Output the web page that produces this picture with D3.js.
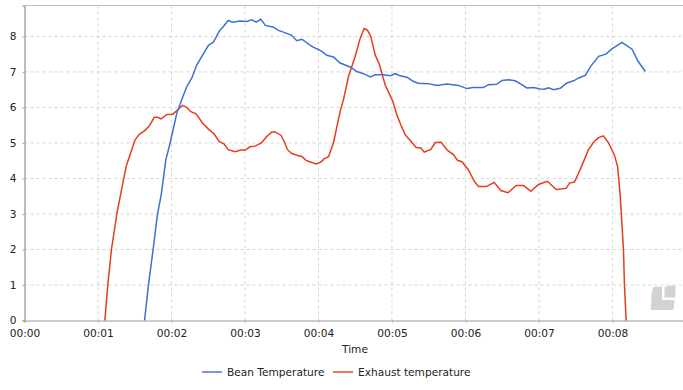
<!DOCTYPE html>
<html>
<head>
<meta charset="utf-8">
<script src="https://cdn.jsdelivr.net/npm/d3@7"></script>
<style>
  html, body { margin: 0; padding: 0; background: #fff; }
  text { font-family: "DejaVu Sans", sans-serif; fill: #222; }
</style>
</head>
<body>
<div id="chart"></div>
<script>
// values, time in seconds
const beanTime = [98, 101.2, 105, 108.6, 111.6, 115.4, 118.9, 121.6, 124.4, 128.4, 132.5, 136.6, 140.7, 144.8, 150.2, 154.3, 159.2, 162.4, 166.3, 169.8, 176, 181, 185.6, 189.1, 192.9, 196.7, 203.3, 207.3, 211.4, 218.2, 222.3, 226.4, 234.6, 242.7, 246.8, 252.2, 257.7, 265.9, 271.3, 276.8, 282.2, 286.3, 293.1, 298.5, 302.6, 306.7, 312.1, 317.6, 321.6, 329.8, 336.6, 344.8, 354.3, 361.1, 366.5, 374.7, 378.8, 385.6, 389.7, 395.2, 400.6, 406, 410.1, 415.6, 421, 424.3, 427.8, 431.9, 437.4, 442.8, 448.3, 452.4, 457.8, 462.5, 468.7, 474.7, 479.6, 487.8, 496, 500.9, 506.9];
const beanValues = [0, 1, 2, 3, 3.54, 4.53, 5, 5.42, 5.84, 6.22, 6.59, 6.83, 7.2, 7.44, 7.75, 7.84, 8.16, 8.28, 8.45, 8.4, 8.43, 8.42, 8.47, 8.4, 8.48, 8.31, 8.26, 8.17, 8.12, 8.03, 7.88, 7.92, 7.72, 7.58, 7.47, 7.42, 7.25, 7.14, 7.01, 6.95, 6.86, 6.92, 6.92, 6.89, 6.95, 6.89, 6.85, 6.73, 6.68, 6.67, 6.62, 6.66, 6.62, 6.53, 6.56, 6.56, 6.64, 6.65, 6.76, 6.78, 6.75, 6.64, 6.55, 6.56, 6.52, 6.51, 6.55, 6.5, 6.54, 6.69, 6.75, 6.83, 6.9, 7.17, 7.44, 7.5, 7.65, 7.83, 7.64, 7.3, 7.01];
const exhaustTime = [65.6, 68, 71, 75.4, 78.4, 83, 85.7, 90.3, 93.9, 98, 102, 105.9, 108.6, 111.6, 116.2, 121.1, 124.4, 129, 132, 135.8, 140.1, 145.3, 150.2, 154.8, 158.9, 163, 166.3, 172, 176.6, 180.1, 184.2, 188.3, 193.7, 197.8, 201.9, 204.6, 209.5, 212, 214.7, 218.2, 223.7, 226.4, 229.9, 234.6, 238.1, 241.9, 244.6, 248.2, 252.2, 257.7, 260.4, 264.5, 270, 274.1, 277.3, 280.1, 282.7, 286.3, 289.8, 294.4, 300.7, 304, 307.2, 310.8, 315.7, 319.7, 323.5, 326.3, 331.7, 335.3, 340.2, 345.3, 350.2, 353.5, 357.1, 362.5, 367.2, 370.7, 377, 383.4, 388.9, 394.7, 401.4, 407.4, 413.4, 419.6, 426.9, 434, 442.2, 444.9, 449, 454.2, 460.4, 465.1, 468.7, 472.7, 476.8, 481.5, 484.2, 486.3, 489, 489.8, 491.2];
const exhaustValues = [0, 1, 2, 3, 3.54, 4.34, 4.62, 5.09, 5.25, 5.34, 5.48, 5.72, 5.72, 5.68, 5.8, 5.81, 5.91, 6.06, 6.01, 5.88, 5.82, 5.56, 5.39, 5.25, 5.04, 4.97, 4.81, 4.75, 4.8, 4.8, 4.89, 4.91, 5.01, 5.18, 5.31, 5.31, 5.21, 5.04, 4.81, 4.7, 4.64, 4.62, 4.51, 4.45, 4.41, 4.46, 4.55, 4.61, 5, 5.89, 6.22, 6.87, 7.44, 7.95, 8.22, 8.17, 8, 7.48, 7.2, 6.64, 6.17, 5.79, 5.51, 5.23, 5.04, 4.87, 4.86, 4.74, 4.82, 5.01, 5.02, 4.79, 4.67, 4.51, 4.47, 4.24, 3.92, 3.77, 3.77, 3.89, 3.66, 3.6, 3.8, 3.8, 3.64, 3.83, 3.92, 3.69, 3.72, 3.87, 3.9, 4.29, 4.81, 5.04, 5.15, 5.2, 5, 4.67, 4.34, 3.54, 2, 1, 0];
const xTicks = [0, 60, 120, 180, 240, 300, 360, 420, 480];
const xTickLabels = ["00:00", "00:01", "00:02", "00:03", "00:04", "00:05", "00:06", "00:07", "00:08"];
const yTicks = [0, 1, 2, 3, 4, 5, 6, 7, 8];

const margin = { top: 5.5, right: 0, bottom: 69.5, left: 24.5 },
    width = 683 - margin.left - margin.right,
    height = 390 - margin.top - margin.bottom;

const svg = d3.select("#chart")
    .append("svg")
    .attr("width", 683)
    .attr("height", 390)
    .style("display", "block");

const g = svg.append("g")
    .attr("transform", `translate(${margin.left},${margin.top})`);

const x = d3.scaleLinear().domain([0, 537.6]).range([0, width]);
const y = d3.scaleLinear().domain([0, 8.87]).range([height, 0]);

// grid
g.selectAll(".gridx")
    .data(xTicks.slice(1))
    .join("line")
    .attr("x1", d => x(d)).attr("x2", d => x(d))
    .attr("y1", 0).attr("y2", height)
    .attr("stroke", "#d4d4d4")
    .attr("stroke-dasharray", "3,3");
g.selectAll(".gridy")
    .data(yTicks.slice(1))
    .join("line")
    .attr("x1", 0).attr("x2", width)
    .attr("y1", d => y(d)).attr("y2", d => y(d))
    .attr("stroke", "#d4d4d4")
    .attr("stroke-dasharray", "3,3");

// watermark
svg.append("path")
    .attr("d", "M651 310 Q651 288 654 287 L661 286.5 Q662 286.5 662 288 L662 300 L674 300 Q674.5 300 674.5 301 L673.5 309 Q673 310 672 310 Z")
    .attr("fill", "#d2d2d2");
svg.append("path")
    .attr("d", "M664.5 288 Q664.5 286.5 666 286.5 L675.5 285 L675.5 296 Q675.5 297.5 674 297.5 L664.5 297.5 Z")
    .attr("fill", "#d2d2d2");

// axes
const xAxis = g.append("g")
    .attr("transform", `translate(0,${height})`)
    .call(d3.axisBottom(x).tickValues(xTicks).tickFormat((d, i) => xTickLabels[i]).tickSizeOuter(0).tickSize(2).tickPadding(6.5));
const yAxis = g.append("g")
    .call(d3.axisLeft(y).tickValues(yTicks).tickFormat(d3.format("d")).tickSizeOuter(0).tickSize(2).tickPadding(6));
xAxis.selectAll("text").style("font-size", "10.6px");
yAxis.selectAll("text").style("font-size", "10.6px");
xAxis.select(".domain").attr("stroke", "#bdbdbd").attr("stroke-width", 1.5);
yAxis.select(".domain").attr("stroke", "#a6a6a6").attr("stroke-width", 1.5);
xAxis.selectAll(".tick line").attr("stroke", "#a6a6a6");
yAxis.selectAll(".tick line").attr("stroke", "#a6a6a6");

// top border
g.append("line")
    .attr("x1", 0).attr("x2", width)
    .attr("y1", 0).attr("y2", 0)
    .attr("stroke", "#bdbdbd");

// lines
const line = d3.line()
    .x(d => x(d[0]))
    .y(d => y(d[1]));

g.append("path")
    .datum(d3.zip(exhaustTime, exhaustValues))
    .attr("fill", "none")
    .attr("stroke", "#e43d1c")
    .attr("stroke-width", 1.5)
    .attr("d", line);
g.append("path")
    .datum(d3.zip(beanTime, beanValues))
    .attr("fill", "none")
    .attr("stroke", "#3e6fd4")
    .attr("stroke-width", 1.5)
    .attr("d", line);

// axis title
svg.append("text")
    .attr("x", 355).attr("y", 353)
    .attr("text-anchor", "middle")
    .style("font-size", "10.6px")
    .text("Time");

// legend
const legendItems = [
    { name: "Bean Temperature", color: "#3e6fd4", x: 202 },
    { name: "Exhaust temperature", color: "#e43d1c", x: 333 }
];
const legend = svg.selectAll(".legend")
    .data(legendItems)
    .join("g")
    .attr("transform", d => `translate(${d.x},372)`);
legend.append("line")
    .attr("x1", 0).attr("x2", 20)
    .attr("y1", 0).attr("y2", 0)
    .attr("stroke", d => d.color)
    .attr("stroke-width", 1.4);
legend.append("text")
    .attr("x", 25).attr("y", 4)
    .style("font-size", "10.6px")
    .text(d => d.name);
</script>
</body>
</html>
